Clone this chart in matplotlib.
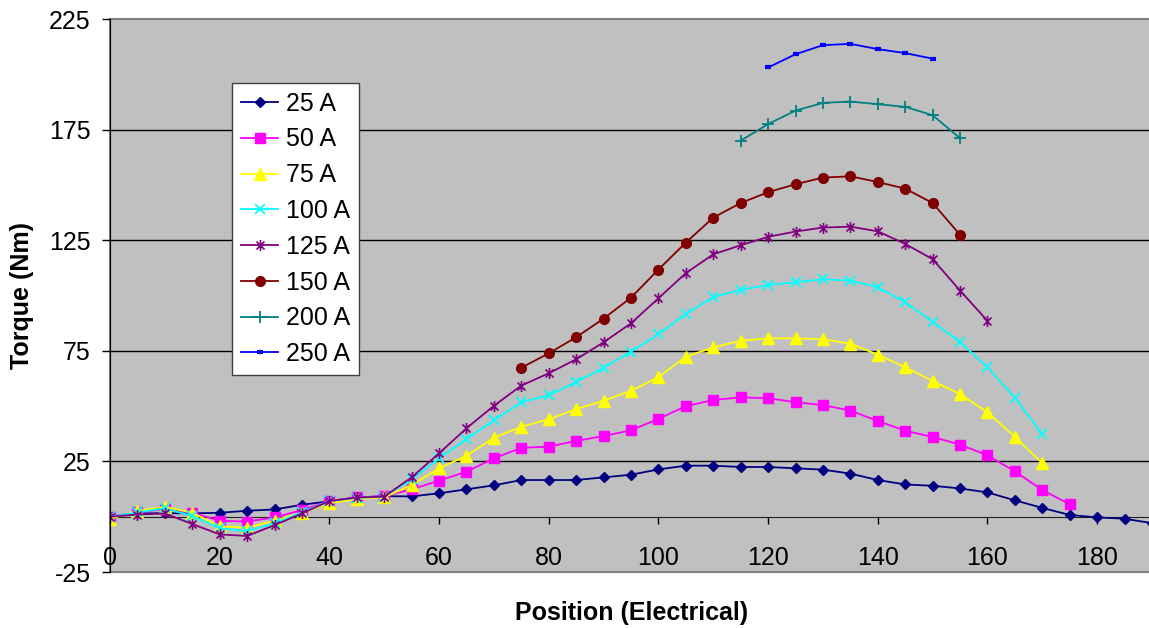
import matplotlib
matplotlib.use("Agg")
import matplotlib.pyplot as plt
from matplotlib.path import Path
import numpy as np

plt.rcParams['font.family'] = ['Liberation Sans', 'DejaVu Sans']
plt.rcParams['axes.unicode_minus'] = False

# ---- data ----
x_25 = list(range(0, 195, 5))
y_25 = [0, 1.5, 1.6, 1.5, 1.8, 2.7, 3.3, 5.4, 7.0, 8.7, 9.3, 9.2, 10.6, 12.4, 14.2,
        16.6, 16.6, 16.6, 17.8, 19.0, 21.4, 23.1, 23.1, 22.5, 22.5, 21.9, 21.3, 19.5,
        16.6, 14.6, 14.0, 12.8, 11.0, 7.4, 4.0, 0.8, -0.3, -0.9, -2.9]

x_50 = list(range(0, 180, 5))
y_50 = [0, 2.0, 3.5, 1.8, -1.8, -2.2, -0.3, 3.0, 7.1, 8.7, 9.3, 12.4, 16.3, 20.4,
        26.4, 31.2, 31.7, 34.3, 36.5, 39.1, 44.3, 50.0, 52.8, 54.0, 53.6, 51.8, 50.5,
        48.0, 43.3, 38.9, 36.1, 32.6, 27.8, 20.5, 12.1, 5.6]

x_75 = list(range(0, 175, 5))
y_75 = [-1.0, 2.6, 4.5, 1.8, -4.3, -5.0, -1.8, 1.8, 6.1, 8.0, 8.8, 14.3, 21.9, 27.6,
        35.7, 40.7, 44.1, 48.7, 52.4, 57.0, 63.1, 72.4, 76.6, 79.6, 80.7, 80.7, 80.3,
        78.3, 73.3, 67.6, 61.4, 55.5, 47.2, 36.2, 24.2]

x_100 = list(range(0, 175, 5))
y_100 = [0, 2.0, 3.8, 0.3, -5.2, -6.5, -3.0, 2.0, 7.1, 8.5, 9.1, 16.9, 26.4, 35.2,
         43.6, 51.8, 54.9, 61.0, 67.4, 74.7, 82.5, 91.8, 99.3, 102.7, 104.8, 106.1,
         107.4, 106.8, 103.8, 97.0, 88.2, 79.0, 67.6, 53.8, 37.3]

x_125 = list(range(0, 165, 5))
y_125 = [0, 1.0, 1.5, -3.3, -8.0, -8.7, -3.8, 1.5, 7.1, 8.7, 9.1, 17.8, 28.7, 40.0,
         50.2, 59.3, 64.9, 71.2, 78.9, 87.5, 98.8, 110.2, 118.7, 122.8, 126.6, 129.0,
         130.8, 131.2, 129.1, 123.4, 116.5, 102.3, 88.6]

x_150 = list(range(75, 160, 5))
y_150 = [67.4, 73.9, 81.2, 89.6, 99.1, 111.8, 124.0, 135.3, 141.9, 146.8, 150.4,
         153.4, 154.0, 151.4, 148.4, 141.9, 127.5]

x_200 = list(range(115, 160, 5))
y_200 = [170.1, 177.6, 183.7, 187.2, 187.8, 186.6, 185.4, 181.6, 171.2]

x_250 = list(range(120, 155, 5))
y_250 = [203.2, 209.2, 213.3, 213.9, 211.5, 209.7, 207.2]

labels = ["25 A", "50 A", "75 A", "100 A", "125 A", "150 A", "200 A", "250 A"]
y_ticks = [-25, 25, 75, 125, 175, 225]
x_ticks = list(range(0, 200, 20))

# ---- styles ----
star = Path([(0, -1), (0, 1), (-0.72, -0.72), (0.72, 0.72), (-0.72, 0.72), (0.72, -0.72)],
            [Path.MOVETO, Path.LINETO, Path.MOVETO, Path.LINETO, Path.MOVETO, Path.LINETO])

styles = [
    dict(color='#000080', marker='D', ms=5.5),
    dict(color='#FF00FF', marker='s', ms=6.5),
    dict(color='#FFFF00', marker='^', ms=8),
    dict(color='#00FFFF', marker='x', ms=7, mew=1.3),
    dict(color='#800080', marker=star, ms=8, mew=1.2),
    dict(color='#800000', marker='o', ms=7),
    dict(color='#008080', marker='+', ms=8, mew=1.3),
    dict(color='#0000FF', marker='_', ms=4.5, mew=3),
]

series = [(x_25, y_25), (x_50, y_50), (x_75, y_75), (x_100, y_100),
          (x_125, y_125), (x_150, y_150), (x_200, y_200), (x_250, y_250)]

fig = plt.figure(figsize=(11.49, 6.28), dpi=100)
W, H = 1149, 628
left, right, top, bottom = 110, 1152, 19.3, 572
ax = fig.add_axes([left / W, 1 - bottom / H, (right - left) / W, (bottom - top) / H])
ax.set_facecolor('#C0C0C0')
ax.patch.set_edgecolor('#808080')
ax.patch.set_linewidth(1.5)

for (xs, ys), st, lab in zip(series, styles, labels):
    st = dict(st)
    c = st.pop('color')
    ax.plot(xs, ys, color=c, lw=1.3, markerfacecolor=c, markeredgecolor=c,
            label=lab, clip_on=True, **st)

ax.set_xlim(0, 190)
ax.set_ylim(-25, 225)
ax.set_yticks(y_ticks)
ax.set_xticks(x_ticks)
for yv in [25, 75, 125, 175]:
    ax.axhline(yv, color='black', lw=1.0, zorder=0.5)

ax.spines['top'].set_visible(False)
ax.spines['right'].set_visible(False)
ax.spines['left'].set_color('black')
ax.spines['bottom'].set_position(('data', 0))
ax.spines['bottom'].set_color('#202020')
ax.spines['bottom'].set_zorder(0.6)

ax.tick_params(axis='y', direction='out', length=6, width=1, pad=8, labelsize=18)
ax.tick_params(axis='x', direction='out', length=5, width=1, pad=16, labelsize=18)

leg = ax.legend(loc='upper left', bbox_to_anchor=((232 - left) / (right - left), (bottom - 83) / (bottom - top)),
                borderaxespad=0, fontsize=18, frameon=True, fancybox=False, shadow=False,
                framealpha=1, edgecolor='#404040', handlelength=1.5, handletextpad=0.3,
                labelspacing=0.47, borderpad=0.35)
leg.get_frame().set_linewidth(1.0)

fig.text(632 / W, 1 - 613 / H, "Position (Electrical)", ha='center', va='center',
         fontsize=18, fontweight='bold')
fig.text(22 / W, 1 - 295 / H, "Torque (Nm)", ha='center', va='center', rotation=90,
         fontsize=18, fontweight='bold')

fig.savefig("out.png", dpi=100)
